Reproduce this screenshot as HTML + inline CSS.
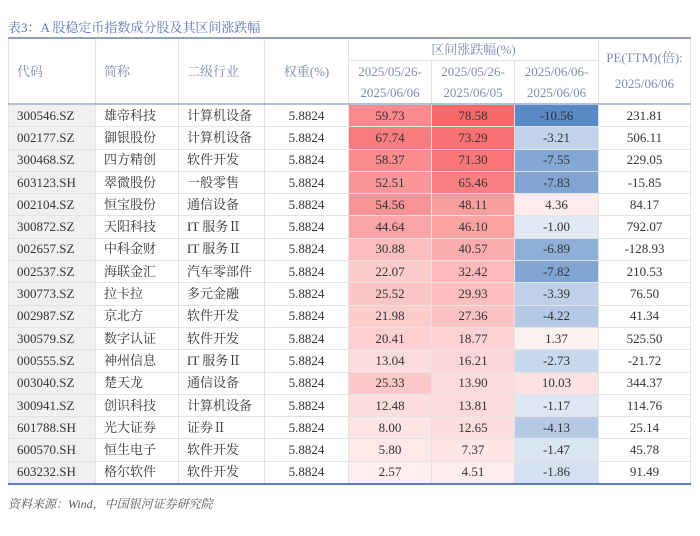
<!DOCTYPE html>
<html><head><meta charset="utf-8">
<style>
body{margin:0;width:700px;height:536px;background:#fff;font-family:"Liberation Serif","Noto Serif CJK SC",serif;overflow:hidden;position:relative}
#title{position:absolute;left:8px;top:17px;font-size:13px;color:#5b79b0}
table{position:absolute;left:8px;top:37px;width:682px;border-collapse:collapse;table-layout:fixed;font-size:13px;color:#333}
td,th{border:1px solid #e3e3e3;padding:0;white-space:nowrap;overflow:hidden}
thead th{font-weight:normal;color:#7d8bb0;background:#fff;line-height:21px}
thead tr:first-child{border-top:2px solid #8ea0c8}
thead tr:first-child th{height:21px}
thead tr:last-child th{height:42px}
thead th.b{border-bottom:2px solid #b4c0da}
tbody td{height:21.3px;text-align:center;line-height:16px}
tbody td.l{text-align:left;padding-left:8px}
tbody td.c0{background:#f0f0f0}
tbody tr:last-child td{border-bottom:2px solid #5b7cc0}
#src{position:absolute;left:8px;top:495px;font-size:12px;color:#555;font-style:italic}
</style></head><body>
<div id="title">表3：A 股稳定币指数成分股及其区间涨跌幅</div>
<table>
<colgroup><col style="width:87px"><col style="width:83px"><col style="width:86px"><col style="width:84px"><col style="width:83px"><col style="width:83px"><col style="width:84px"><col style="width:92px"></colgroup>
<thead>
<tr><th rowspan="2" class="b" style="text-align:left;padding-left:8px">代码</th><th rowspan="2" class="b" style="text-align:left;padding-left:8px">简称</th><th rowspan="2" class="b" style="text-align:left;padding-left:8px">二级行业</th><th rowspan="2" class="b">权重(%)</th><th colspan="3">区间涨跌幅(%)</th><th rowspan="2" class="b" style="line-height:26px">PE(TTM)(倍):<br>2025/06/06</th></tr>
<tr><th class="b">2025/05/26-<br>2025/06/06</th><th class="b">2025/05/26-<br>2025/06/05</th><th class="b">2025/06/06-<br>2025/06/06</th></tr>
</thead>
<tbody id="tb"></tbody>
</table>
<div id="src">资料来源：Wind，中国银河证券研究院</div>
<script>
const codes=["300546.SZ","002177.SZ","300468.SZ","603123.SH","002104.SZ","300872.SZ","002657.SZ","002537.SZ","300773.SZ","002987.SZ","300579.SZ","000555.SZ","003040.SZ","300941.SZ","601788.SH","600570.SH","603232.SH"];
const names=["雄帝科技","御银股份","四方精创","翠微股份","恒宝股份","天阳科技","中科金财","海联金汇","拉卡拉","京北方","数字认证","神州信息","楚天龙","创识科技","光大证券","恒生电子","格尔软件"];
const industries=["计算机设备","计算机设备","软件开发","一般零售","通信设备","IT 服务Ⅱ","IT 服务Ⅱ","汽车零部件","多元金融","软件开发","软件开发","IT 服务Ⅱ","通信设备","计算机设备","证券Ⅱ","软件开发","软件开发"];
const weights=Array(17).fill("5.8824");
const chg1=[59.73,67.74,58.37,52.51,54.56,44.64,30.88,22.07,25.52,21.98,20.41,13.04,25.33,12.48,8.00,5.80,2.57];
const chg2=[78.58,73.29,71.30,65.46,48.11,46.10,40.57,32.42,29.93,27.36,18.77,16.21,13.90,13.81,12.65,7.37,4.51];
const chg3=[-10.56,-3.21,-7.55,-7.83,4.36,-1.00,-6.89,-7.82,-3.39,-4.22,1.37,-2.73,10.03,-1.17,-4.13,-1.47,-1.86];
const pe=["231.81","506.11","229.05","-15.85","84.17","792.07","-128.93","210.53","76.50","41.34","525.50","-21.72","344.37","114.76","25.14","45.78","91.49"];
const allPos=chg1.concat(chg2,chg3);
const maxV=Math.max(...allPos), minV=Math.min(...chg3);
function color(v){
  let t,c;
  if(v>=0){t=0.08+0.92*v/maxV;c=[248,105,107];}else{t=0.1+0.9*v/minV;c=[90,138,198];}
  const m=i=>Math.round(255+(c[i]-255)*t);
  return `rgb(${m(0)},${m(1)},${m(2)})`;
}
const tb=document.getElementById('tb');
codes.forEach((code,i)=>{
  const tr=document.createElement('tr');
  
  
  const cells=[[code,'l c0'],[names[i],'l'],[industries[i],'l'],[weights[i],'']];
  cells.forEach(([t,cls])=>{const td=document.createElement('td');td.className=cls;td.textContent=t;tr.appendChild(td);});
  [chg1[i],chg2[i],chg3[i]].forEach((v,j)=>{
    const td=document.createElement('td');
    
    
    td.textContent=v.toFixed(2);td.style.background=color(v);tr.appendChild(td);
  });
  const td=document.createElement('td');td.textContent=pe[i];tr.appendChild(td);
  tb.appendChild(tr);
});
</script>
</body></html>
